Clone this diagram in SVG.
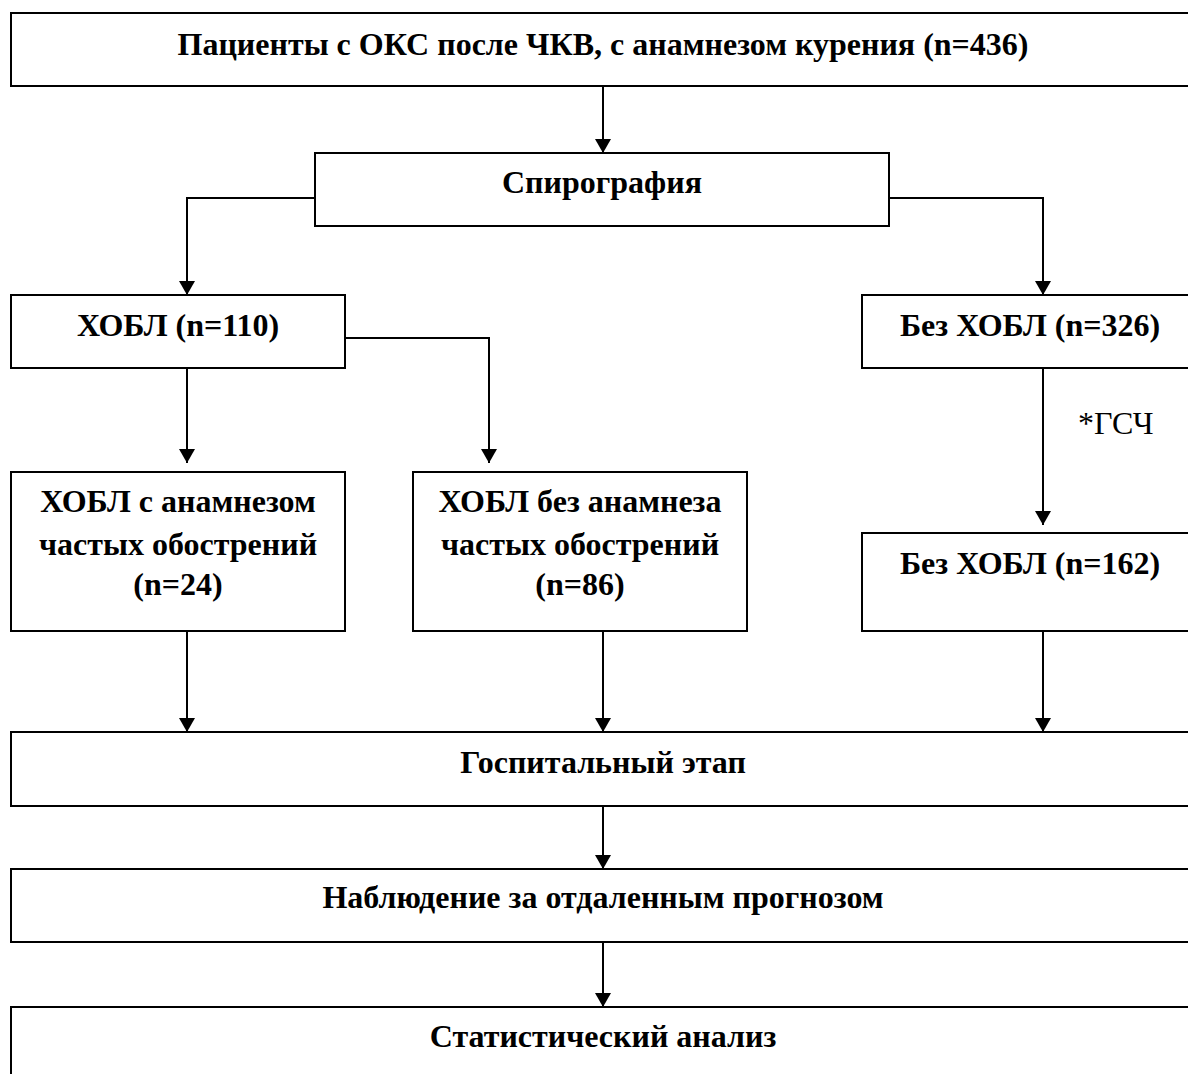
<svg xmlns="http://www.w3.org/2000/svg" width="1188" height="1074" viewBox="0 0 1188 1074">
  <style>
    .box { fill: #ffffff; stroke: #000000; stroke-width: 2; }
    .lbl { font-family: "Liberation Serif", "Times New Roman", serif; font-size: 32px; font-weight: bold; fill: #000000; text-anchor: middle; }
    .note { font-family: "Liberation Serif", "Times New Roman", serif; font-size: 32px; fill: #000000; }
    .edge { fill: none; stroke: #000000; stroke-width: 2; marker-end: url(#arrow); }
  </style>
  <defs>
    <marker id="arrow" markerUnits="userSpaceOnUse" markerWidth="15" markerHeight="16" refX="14" refY="8" orient="auto">
      <path d="M0,0 L14,8 L0,16 Z" fill="#000000"/>
    </marker>
  </defs>
  <rect x="0" y="0" width="1188" height="1074" fill="#ffffff"/>

  <g id="connectors">
    <path class="edge" d="M603,86 V153"/>
    <path class="edge" d="M315,198 H187 V295"/>
    <path class="edge" d="M889,198 H1043 V295"/>
    <path class="edge" d="M187,368 V463"/>
    <path class="edge" d="M345,338 H489 V463"/>
    <path class="edge" d="M1043,368 V525"/>
    <path class="edge" d="M187,631 V732"/>
    <path class="edge" d="M603,631 V732"/>
    <path class="edge" d="M1043,631 V732"/>
    <path class="edge" d="M603,806 V869"/>
    <path class="edge" d="M603,942 V1007"/>
  </g>

  <g id="node-patients">
    <rect class="box" x="11" y="13" width="1186" height="73"/>
    <text class="lbl" x="603" y="55">Пациенты с ОКС после ЧКВ, с анамнезом курения (n=436)</text>
  </g>
  <g id="node-spiro">
    <rect class="box" x="315" y="153" width="574" height="73"/>
    <text class="lbl" x="602" y="193">Спирография</text>
  </g>
  <g id="node-copd">
    <rect class="box" x="11" y="295" width="334" height="73"/>
    <text class="lbl" x="178" y="336">ХОБЛ (n=110)</text>
  </g>
  <g id="node-nocopd326">
    <rect class="box" x="862" y="295" width="335" height="73"/>
    <text class="lbl" x="1030" y="336">Без ХОБЛ (n=326)</text>
  </g>
  <g id="label-gsch">
    <text class="note" x="1078" y="434">*ГСЧ</text>
  </g>
  <g id="node-copd-freq">
    <rect class="box" x="11" y="472" width="334" height="159"/>
    <text class="lbl" x="178" y="512">ХОБЛ с анамнезом</text>
    <text class="lbl" x="178" y="555">частых обострений</text>
    <text class="lbl" x="178" y="595">(n=24)</text>
  </g>
  <g id="node-copd-nofreq">
    <rect class="box" x="413" y="472" width="334" height="159"/>
    <text class="lbl" x="580" y="512">ХОБЛ без анамнеза</text>
    <text class="lbl" x="580" y="555">частых обострений</text>
    <text class="lbl" x="580" y="595">(n=86)</text>
  </g>
  <g id="node-nocopd162">
    <rect class="box" x="862" y="533" width="335" height="98"/>
    <text class="lbl" x="1030" y="574">Без ХОБЛ (n=162)</text>
  </g>
  <g id="node-hospital">
    <rect class="box" x="11" y="732" width="1186" height="74"/>
    <text class="lbl" x="603" y="773">Госпитальный этап</text>
  </g>
  <g id="node-followup">
    <rect class="box" x="11" y="869" width="1186" height="73"/>
    <text class="lbl" x="603" y="908">Наблюдение за отдаленным прогнозом</text>
  </g>
  <g id="node-stats">
    <rect class="box" x="11" y="1007" width="1186" height="80"/>
    <text class="lbl" x="603" y="1047">Статистический анализ</text>
  </g>
</svg>
